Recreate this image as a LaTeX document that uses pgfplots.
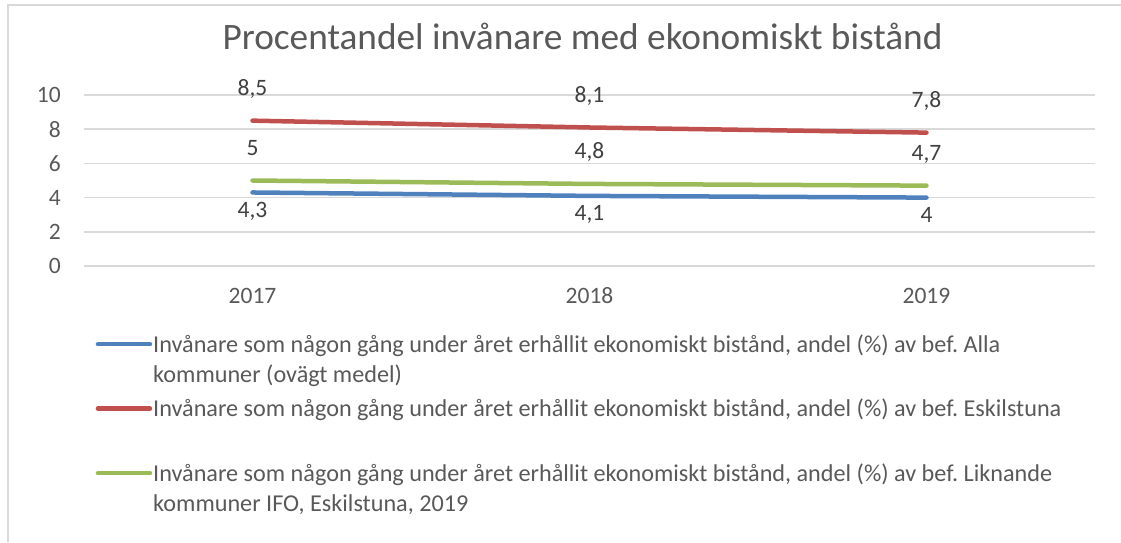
\documentclass[border=0pt]{standalone}
\usepackage{pgfplots}
\pgfplotsset{compat=1.18}
\usepackage{fontspec}
\setmainfont{Carlito}
\frenchspacing
\definecolor{cblue}{HTML}{4F81BD}
\definecolor{cred}{HTML}{C0504D}
\definecolor{cgreen}{HTML}{9BBB59}
\definecolor{gridc}{HTML}{D9D9D9}
\definecolor{txt}{HTML}{595959}
\definecolor{lbl}{HTML}{404040}
\begin{document}
\begin{tikzpicture}[x=1pt,y=1pt]
\useasboundingbox (0,0) rectangle (1121,542);
\draw[gridc, line width=1.5pt] (8,0) -- (8,537) -- (1121,537);
\node[anchor=base, text=txt, font=\fontsize{37.3}{40}\selectfont, inner sep=0pt] at (582.5,492) {Procentandel invånare med ekonomiskt bistånd};
\begin{axis}[
  at={(84pt,276pt)}, anchor=south west, scale only axis,
  width=1011pt, height=171pt,
  xmin=-0.5, xmax=2.5, ymin=0, ymax=10,
  xtick={0,1,2}, xticklabels={2017,2018,2019},
  ytick={0,2,4,6,8,10},
  ymajorgrids, grid style={gridc, line width=1.5pt},
  axis line style={draw=none},
  major tick length=0pt,
  tick label style={font=\fontsize{23.5}{26}\selectfont, text=txt, inner sep=0pt},
  yticklabel style={anchor=east, xshift=-23pt},
  xticklabel style={anchor=base, yshift=-37.5pt},
  /pgf/number format/assume math mode=true,
  /pgf/number format/use comma,
  clip=false,
  nodes near coords,
  point meta=y,
  every node near coord/.append style={font=\fontsize{23.5}{26}\selectfont, text=lbl, anchor=base, inner sep=0pt},
  legend image code/.code={\draw[#1, line width=4.5pt, line cap=round] (0pt,8pt) -- (52pt,8pt);},
  legend style={at={(axis description cs:0,0)}, anchor=north west, xshift=11.5pt, yshift=-65pt,
    draw=none, fill=none, inner sep=0pt, row sep=42pt, column sep=1pt,
    cells={anchor=base west}, font=\fontsize{24.2}{30}\selectfont,
    nodes={inner sep=0pt, text=txt}},
]
\addplot[cblue, line width=4.5pt, line cap=round, mark=none, every node near coord/.append style={yshift=-25pt}]
  coordinates {(0,4.3) (1,4.1) (2,4)};
\addlegendentry{\parbox[t]{960pt}{\strut Invånare som någon gång under året erhållit ekonomiskt bistånd, andel (\%) av bef. Alla\\\strut kommuner (ovägt medel)}}
\addplot[cred, line width=4.5pt, line cap=round, mark=none, every node near coord/.append style={yshift=25pt}]
  coordinates {(0,8.5) (1,8.1) (2,7.8)};
\addlegendentry{\parbox[t]{960pt}{\strut Invånare som någon gång under året erhållit ekonomiskt bistånd, andel (\%) av bef. Eskilstuna\\\strut}}
\addplot[cgreen, line width=4.5pt, line cap=round, mark=none, every node near coord/.append style={yshift=25pt}]
  coordinates {(0,5) (1,4.8) (2,4.7)};
\addlegendentry{\parbox[t]{960pt}{\strut Invånare som någon gång under året erhållit ekonomiskt bistånd, andel (\%) av bef. Liknande\\\strut kommuner IFO, Eskilstuna, 2019}}
\end{axis}
\end{tikzpicture}
\end{document}
